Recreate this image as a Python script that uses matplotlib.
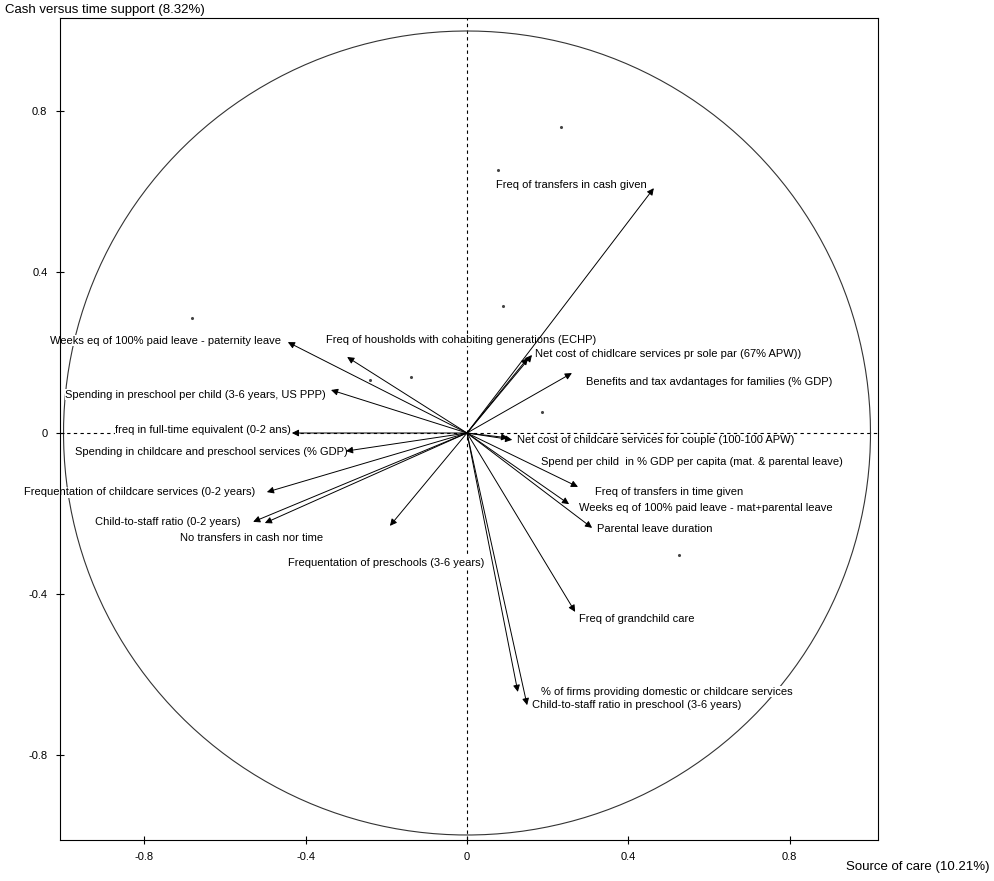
import numpy as np
import matplotlib
matplotlib.use("Agg")
import matplotlib.pyplot as plt

plt.rcParams['font.family'] = ['Liberation Sans', 'DejaVu Sans']

# loadings (arrow tips) on the two factorial axes
NAMES = [
    "Freq of transfers in cash given",
    "Weeks eq of 100% paid leave - paternity leave",
    "Freq of housholds with cohabiting generations (ECHP)",
    "Net cost of chidlcare services pr sole par (67% APW))",
    "Benefits and tax avdantages for families (% GDP)",
    "Spending in preschool per child (3-6 years, US PPP)",
    "freq in full-time equivalent (0-2 ans)",
    "Spending in childcare and preschool services (% GDP)",
    "Net cost of childcare services for couple (100-100 APW)",
    "Spend per child  in % GDP per capita (mat. & parental leave)",
    "Freq of transfers in time given",
    "Weeks eq of 100% paid leave - mat+parental leave",
    "Parental leave duration",
    "Frequentation of childcare services (0-2 years)",
    "Child-to-staff ratio (0-2 years)",
    "No transfers in cash nor time",
    "Frequentation of preschools (3-6 years)",
    "Freq of grandchild care",
    "% of firms providing domestic or childcare services",
    "Child-to-staff ratio in preschool (3-6 years)",
]
F1 = [0.463, -0.444, -0.297, 0.161, 0.260, -0.337, -0.434, -0.300, 0.112, 0.102,
      0.275, 0.253, 0.310, -0.496, -0.530, -0.501, -0.191, 0.268, 0.126, 0.149]
F2 = [0.609, 0.226, 0.189, 0.194, 0.149, 0.107, 0.000, -0.045, -0.017, -0.012,
      -0.134, -0.177, -0.236, -0.147, -0.221, -0.224, -0.231, -0.445, -0.644, -0.677]

# extra unlabeled arrow next to the sole-parent one
EXTRA_F1 = [0.151]
EXTRA_F2 = [0.187]

# label anchors (left edge, vertical centre)
LAB_X = [0.072, -1.033, -0.349, 0.169, 0.295, -0.996, -0.872, -0.971, 0.124, 0.183,
         0.317, 0.278, 0.322, -1.098, -0.922, -0.711, -0.444, 0.278, 0.183, 0.161]
LAB_Y = [0.617, 0.229, 0.231, 0.197, 0.127, 0.095, 0.007, -0.047, -0.017, -0.072,
         -0.147, -0.187, -0.239, -0.147, -0.221, -0.261, -0.323, -0.463, -0.644, -0.677]

# stray individual points
DOT_X = [0.233, 0.077, 0.089, -0.139, 0.186, 0.526, -0.681, -0.240]
DOT_Y = [0.761, 0.654, 0.316, 0.139, 0.052, -0.303, 0.286, 0.132]

TICKS = [-0.8, -0.4, 0, 0.4, 0.8]

fig = plt.figure(figsize=(9.95, 8.81), dpi=100)
ax = fig.add_axes([60 / 995, 41 / 881, 818 / 995, 822 / 881])
ax.set_xlim(-1.0087, 1.0186)
ax.set_ylim(-1.0124, 1.0323)

t = np.linspace(0, 2 * np.pi, 400)
ax.plot(np.cos(t), np.sin(t), color="#333333", lw=0.8, zorder=1)
ax.axhline(0, color="black", lw=0.8, ls=(0, (3, 3)), zorder=0)
ax.axvline(0, color="black", lw=0.8, ls=(0, (3, 3)), zorder=0)

for x, y in zip(F1 + EXTRA_F1, F2 + EXTRA_F2):
    ax.annotate("", xy=(x, y), xytext=(0, 0),
                arrowprops=dict(arrowstyle="-|>", color="black", lw=0.7,
                                mutation_scale=10, shrinkA=0, shrinkB=0),
                zorder=3)

for name, x, y in zip(NAMES, LAB_X, LAB_Y):
    ax.text(x, y, name, fontsize=8, ha="left", va="center", clip_on=False,
            bbox=dict(facecolor="white", edgecolor="none", pad=0.3), zorder=2)

ax.scatter(DOT_X, DOT_Y, s=1.5, color="#444444", zorder=1)

ax.set_xticks(TICKS)
ax.set_yticks(TICKS)
ax.set_xticklabels(["-0.8", "-0.4", "0", "0.4", "0.8"])
ax.set_yticklabels(["-0.8", "-0.4", "0", "0.4", "0.8"])
ax.tick_params(direction="inout", length=6, width=0.8, labelsize=8, pad=6)
for s in ax.spines.values():
    s.set_linewidth(0.8)

fig.text(5 / 995, 1 - 10 / 881, "Cash versus time support (8.32%)", fontsize=9.5,
         ha="left", va="center")
fig.text(990 / 995, 1 - 867 / 881, "Source of care (10.21%)", fontsize=9.5,
         ha="right", va="center")

fig.savefig("out.png", dpi=100)
